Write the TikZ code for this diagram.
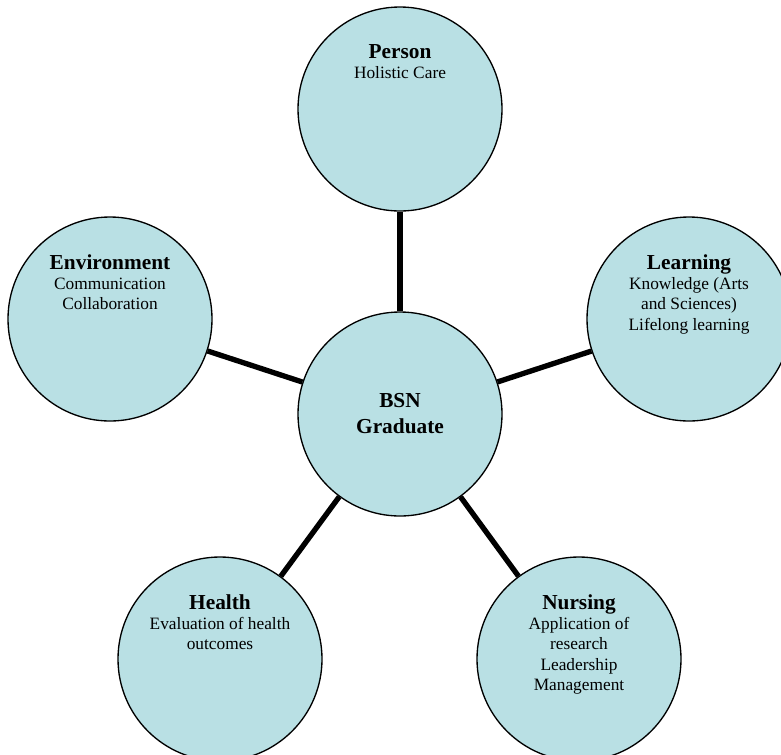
\documentclass[tikz,border=0pt]{standalone}
\usepackage{fontspec}
\setmainfont{Liberation Serif}
\usetikzlibrary{positioning}
\definecolor{bubble}{RGB}{185,224,228}
\newcommand\circtitle[1]{{\bfseries\fontsize{16}{17}\selectfont #1}}

\begin{document}
\begin{tikzpicture}[
            x=0.75pt, y=-0.75pt,
            node distance=28.5pt,
            hub/.style={circle, draw=black, line width=1pt, fill=bubble, minimum size=153pt, inner sep=0pt, align=center},
            caption/.style={align=center, inner sep=0pt, font=\fontsize{13}{15.2}\selectfont},
            spoke/.style={line width=4pt, black}
        ]
            \useasboundingbox (0,0) rectangle (781,754);
            \clip (0,0) rectangle (781,754);

            \node[hub, font=\bfseries\fontsize{16}{19.5}\selectfont] (grad) at (400,414) {BSN\\Graduate};
            \node[hub] (person) at (400,109) {};
            \node[hub] (learning) at (689,319) {};
            \node[hub] (env) at (110,319) {};
            \node[hub] (health) at (220,659) {};
            \node[hub] (nursing) at (579,659) {};

            \node[caption, below=of person.north] (persontxt) {\circtitle{Person}\\Holistic Care};
            \node[caption, below=of learning.north] (learningtxt) {\circtitle{Learning}\\Knowledge (Arts\\and Sciences)\\Lifelong learning};
            \node[caption, below=of env.north] (envtxt) {\circtitle{Environment}\\Communication\\Collaboration};
            \node[caption, below=of health.north] (healthtxt) {\circtitle{Health}\\Evaluation of health\\outcomes};
            \node[caption, below=of nursing.north] (nursingtxt) {\circtitle{Nursing}\\Application of\\research\\Leadership\\Management};

            \draw[spoke] (grad) -- (person);
            \draw[spoke] (grad) -- (learning);
            \draw[spoke] (grad) -- (env);
            \draw[spoke] (grad) -- (health);
            \draw[spoke] (grad) -- (nursing);
        \end{tikzpicture}
\end{document}
